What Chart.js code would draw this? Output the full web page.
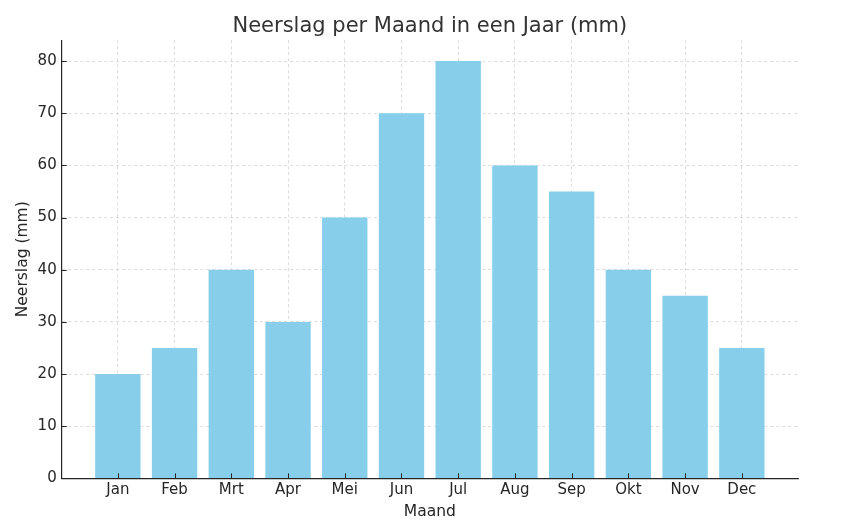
<!DOCTYPE html>
<html>
<head>
<meta charset="utf-8">
<script src="https://cdn.jsdelivr.net/npm/chart.js@4"></script>
<style>
  html, body { margin: 0; padding: 0; background: #fff; }
  #wrap { width: 857px; height: 530px; }
</style>
</head>
<body>
<div id="wrap"><canvas id="chart"></canvas></div>
<script>
const months = ['Jan', 'Feb', 'Mrt', 'Apr', 'Mei', 'Jun', 'Jul', 'Aug', 'Sep', 'Okt', 'Nov', 'Dec'];
const rainfall = [20, 25, 40, 30, 50, 70, 80, 60, 55, 40, 35, 25];
const yTicks = [0, 10, 20, 30, 40, 50, 60, 70, 80];

const font = 'DejaVu Sans';
const textColor = '#262626';
const gridColor = '#d3d3d3';

const points = months.map((m, i) => ({ x: i, y: rainfall[i] }));

// matplotlib-style tick marks that point into the plot area
const innerTicks = {
  id: 'innerTicks',
  afterDatasetsDraw(chart) {
    const { ctx, scales: { x, y } } = chart;
    const len = 5;
    ctx.save();
    ctx.setLineDash([]);
    ctx.strokeStyle = textColor;
    ctx.lineWidth = 1;
    ctx.beginPath();
    x.ticks.forEach((t) => {
      const px = Math.round(x.getPixelForValue(t.value)) + 0.5;
      ctx.moveTo(px, y.bottom);
      ctx.lineTo(px, y.bottom - len);
    });
    y.ticks.forEach((t) => {
      const py = Math.round(y.getPixelForValue(t.value)) + 0.5;
      ctx.moveTo(x.left, py);
      ctx.lineTo(x.left + len, py);
    });
    ctx.stroke();
    ctx.restore();
  },
};

new Chart(document.getElementById('chart'), {
  type: 'bar',
  data: {
    datasets: [{
      label: 'Neerslag',
      data: points,
      backgroundColor: '#87ceeb',
      borderWidth: 0,
      barPercentage: 1,
      categoryPercentage: 0.8,
    }],
  },
  options: {
    responsive: true,
    maintainAspectRatio: false,
    animation: false,
    layout: { padding: { left: 14, right: 59, top: 14, bottom: 9 } },
    plugins: {
      legend: { display: false },
      tooltip: { enabled: false },
      title: {
        display: true,
        fullSize: false,
        text: 'Neerslag per Maand in een Jaar (mm)',
        color: '#333333',
        font: { family: font, size: 21, weight: 'normal' },
        padding: { top: 0, bottom: 1 },
      },
    },
    scales: {
      x: {
        type: 'linear',
        offset: false,
        min: -0.99,
        max: 11.99,
        afterBuildTicks: (axis) => { axis.ticks = months.map((m, i) => ({ value: i })); },
        ticks: {
          callback: (v) => months[v],
          color: textColor,
          font: { family: font, size: 15 },
          padding: 3,
          maxRotation: 0,
          autoSkip: false,
        },
        grid: { offset: false, color: gridColor, lineWidth: 0.8, drawTicks: false },
        border: { display: true, color: '#262626', width: 1.2, dash: [3, 3] },
        title: {
          display: true,
          text: 'Maand',
          color: textColor,
          font: { family: font, size: 15.5 },
          padding: { top: 0, bottom: 0 },
        },
      },
      y: {
        min: 0,
        max: 84,
        afterBuildTicks: (axis) => { axis.ticks = yTicks.map((v) => ({ value: v })); },
        ticks: {
          color: textColor,
          font: { family: font, size: 15 },
          padding: 5,
        },
        grid: { color: gridColor, lineWidth: 0.8, drawTicks: false },
        border: { display: true, color: '#262626', width: 1.2, dash: [3, 3] },
        title: {
          display: true,
          text: 'Neerslag (mm)',
          color: textColor,
          font: { family: font, size: 15.5 },
          padding: { top: 0, bottom: 0 },
        },
      },
    },
  },
  plugins: [innerTicks],
});
</script>
</body>
</html>
